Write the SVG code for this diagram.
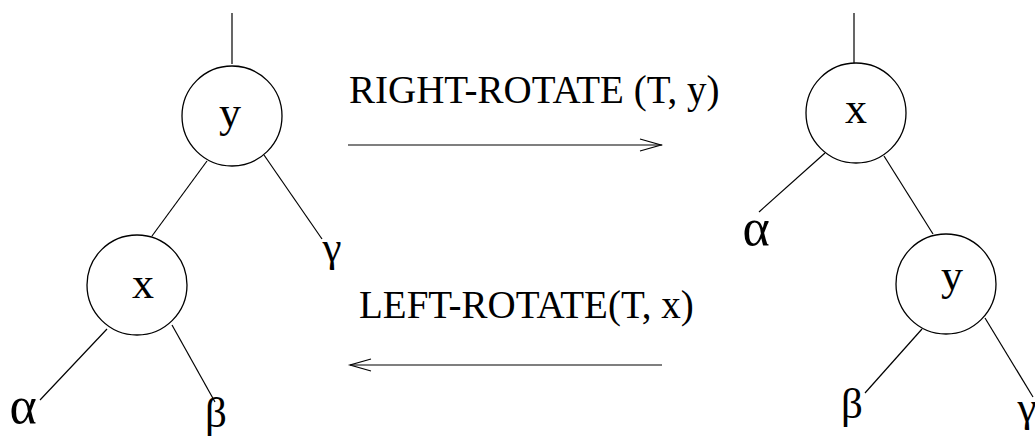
<svg xmlns="http://www.w3.org/2000/svg" width="1035" height="436" viewBox="0 0 1035 436">
<style>
.n{fill:none;stroke:#000;stroke-width:1.3}
.e{stroke:#000;stroke-width:1.2;fill:none}
.lbl{font-family:"Liberation Serif","Times New Roman",serif;font-size:44px;fill:#000;text-anchor:middle}
.g{font-family:"Liberation Serif","Times New Roman",serif;font-size:43px;fill:#000;text-anchor:middle}
.a{font-family:"Liberation Serif","Times New Roman",serif;font-size:52px;fill:#000;text-anchor:middle}
.op{font-family:"Liberation Serif","Times New Roman",serif;font-size:39px;fill:#000}
</style>
<rect width="1035" height="436" fill="#fff"/>
<g id="connectors">
<line class="e" x1="232" y1="13" x2="232" y2="64"/>
<line class="e" x1="207" y1="161" x2="152" y2="236"/>
<line class="e" x1="264" y1="155" x2="322" y2="239"/>
<line class="e" x1="107" y1="329" x2="40" y2="400"/>
<line class="e" x1="172" y1="325" x2="215" y2="402"/>
<line class="e" x1="854" y1="13" x2="854" y2="63"/>
<line class="e" x1="825" y1="153" x2="759" y2="212"/>
<line class="e" x1="884" y1="156" x2="933" y2="234"/>
<line class="e" x1="922" y1="329" x2="865" y2="393"/>
<line class="e" x1="985" y1="318" x2="1033" y2="397"/>
<g id="right-rotate-arrow">
<line class="e" x1="348" y1="145" x2="662" y2="145"/>
<polyline class="e" points="640,139 661,145 640,151"/>
</g>
<g id="left-rotate-arrow">
<line class="e" x1="350" y1="365" x2="662" y2="365"/>
<polyline class="e" points="371,359 350,365 371,371"/>
</g>
</g>
<g id="left-y">
<circle class="n" cx="232" cy="116" r="50"/>
<text class="lbl" x="230" y="127">y</text>
</g>
<g id="left-x">
<circle class="n" cx="137" cy="285" r="50"/>
<text class="lbl" x="143" y="298">x</text>
</g>
<g id="left-gamma"><text class="g" x="332" y="261">γ</text></g>
<g id="left-alpha"><text class="a" x="23" y="423">α</text></g>
<g id="left-beta"><text class="g" x="216" y="427">β</text></g>
<g id="right-x">
<circle class="n" cx="856" cy="113" r="50"/>
<text class="lbl" x="856" y="123">x</text>
</g>
<g id="right-y">
<circle class="n" cx="946" cy="284" r="50"/>
<text class="lbl" x="952" y="290">y</text>
</g>
<g id="right-alpha"><text class="a" x="756" y="245">α</text></g>
<g id="right-beta"><text class="g" x="852" y="418">β</text></g>
<g id="right-gamma"><text class="g" x="1027" y="421">γ</text></g>
<g id="op-labels">
<text class="op" x="349" y="103">RIGHT-ROTATE (T, y)</text>
<text class="op" x="359" y="318">LEFT-ROTATE(T, x)</text>
</g>
</svg>
